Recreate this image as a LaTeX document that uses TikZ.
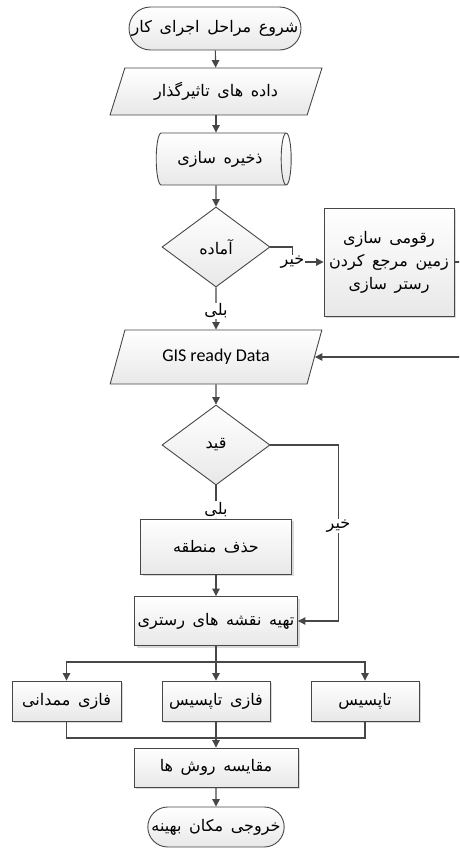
\documentclass[tikz,border=0pt]{standalone}
\usepackage{fontspec}
\newfontfamily\farsi[Script=Arabic, WordSpace=1.5]{DejaVu Sans}
\newfontfamily\latin{Carlito}
\TeXXeTstate=1
\usetikzlibrary{arrows.meta, shapes.geometric, shapes.misc, shadows}
\definecolor{linec}{HTML}{474747}
\newcommand{\fatext}[1]{\beginR #1\endR}

\begin{document}
\begin{tikzpicture}[x=1pt, y=-1pt,
  flow/.style={draw=linec, line width=0.9pt, top color=white, bottom color=gray!18, inner sep=2pt,
    font=\farsi\fontsize{16}{25}\selectfont},
  term/.style={flow, rounded rectangle},
  proc/.style={flow, rectangle, drop shadow={shadow xshift=2pt, shadow yshift=-2pt, fill=gray!30, opacity=1}},
  io/.style={flow, trapezium, trapezium left angle=65, trapezium right angle=115, trapezium stretches=true},
  dec/.style={flow, diamond, inner sep=0pt},
  stor/.style={flow, cylinder, shape aspect=0.5},
  conn/.style={draw=linec, line width=1.1pt},
  arr/.style={conn, -{Triangle[length=7.5pt, width=7.5pt]}},
  lbl/.style={fill=white, inner sep=1pt, font=\farsi\fontsize{16}{18}\selectfont}]
  \useasboundingbox (0,0) rectangle (459,848);
  \clip (0,0) rectangle (459,848);
  \node[term, minimum width=176pt, minimum height=43pt] (start) at (215,28.5) {\fatext{شروع مراحل اجرای کار}};
  \node[io, minimum width=212pt, minimum height=47pt] (inp) at (216,91.5) {\fatext{داده های تاثیرگذار}};
  \node[stor, minimum width=52pt, minimum height=135pt] (save) at (220,159) {\fatext{ذخیره سازی}};
  \node[dec, minimum width=108pt, minimum height=80pt] (ready) at (216,247) {\fatext{آماده}};
  \node[proc, minimum width=130pt, minimum height=108pt, align=center,
    font=\farsi\fontsize{16}{23}\selectfont] (rast) at (389,262)
    {\fatext{رقومی سازی}\\ \fatext{زمین مرجع کردن}\\ \fatext{رستر سازی}};
  \node[io, minimum width=212pt, minimum height=54pt, font=\latin\fontsize{18}{22}\selectfont] (gis) at (216,357) {GIS ready Data};
  \node[dec, minimum width=108pt, minimum height=80pt] (qeid) at (216,445) {\fatext{قید}};
  \node[proc, minimum width=151pt, minimum height=55pt] (hazf) at (216,546.5) {\fatext{حذف منطقه}};
  \node[proc, minimum width=163pt, minimum height=49pt] (tahie) at (216,621) {\fatext{تهیه نقشه های رستری}};
  \node[proc, minimum width=109pt, minimum height=40pt] (mamdani) at (66.5,701) {\fatext{فازی ممدانی}};
  \node[proc, minimum width=108pt, minimum height=40pt] (ftopsis) at (216,701) {\fatext{فازی تاپسیس}};
  \node[proc, minimum width=108pt, minimum height=40pt] (topsis) at (365,701) {\fatext{تاپسیس}};
  \node[proc, minimum width=164pt, minimum height=39pt] (moqa) at (216,767.5) {\fatext{مقایسه روش ها}};
  \node[term, minimum width=135pt, minimum height=40pt] (khoruj) at (216,827) {\fatext{خروجی مکان بهینه}};
  \coordinate (split) at (216,662);
  \coordinate (merge) at (216,738);
  \coordinate (edge) at (475,0);
  \draw[arr] (start) -- (inp);
  \draw[arr] (inp.south) -- (inp.south |- save.north);
  \draw[arr] (inp.south |- save.south) -- (ready.north);
  \draw[arr] (ready.east) -- ++(22,0) |- node[lbl, pos=0.5] {\fatext{خیر}} (rast.west);
  \draw[arr] (rast.east) -- (rast.east -| edge) |- (gis.east);
  \draw[arr] (ready.south) -- node[lbl, pos=0.56] {\fatext{بلی}} (gis.north);
  \draw[arr] (gis.south) -- (qeid.north);
  \draw[arr] (qeid.south) -- node[lbl, pos=0.72] {\fatext{بلی}} (hazf.north);
  \draw[arr] (qeid.east) -- ++(68,0) |- node[lbl, pos=0.23] {\fatext{خیر}} (tahie.east);
  \draw[arr] (hazf) -- (tahie);
  \draw[conn] (tahie.south) -- (split);
  \draw[arr] (split) -| (mamdani.north);
  \draw[arr] (split) -| (topsis.north);
  \draw[arr] (split) -- (ftopsis.north);
  \draw[conn] (mamdani.south) |- (merge);
  \draw[conn] (topsis.south) |- (merge);
  \draw[arr] (ftopsis.south) -- (moqa.north);
  \draw[arr] (moqa) -- (khoruj);
\end{tikzpicture}
\end{document}
